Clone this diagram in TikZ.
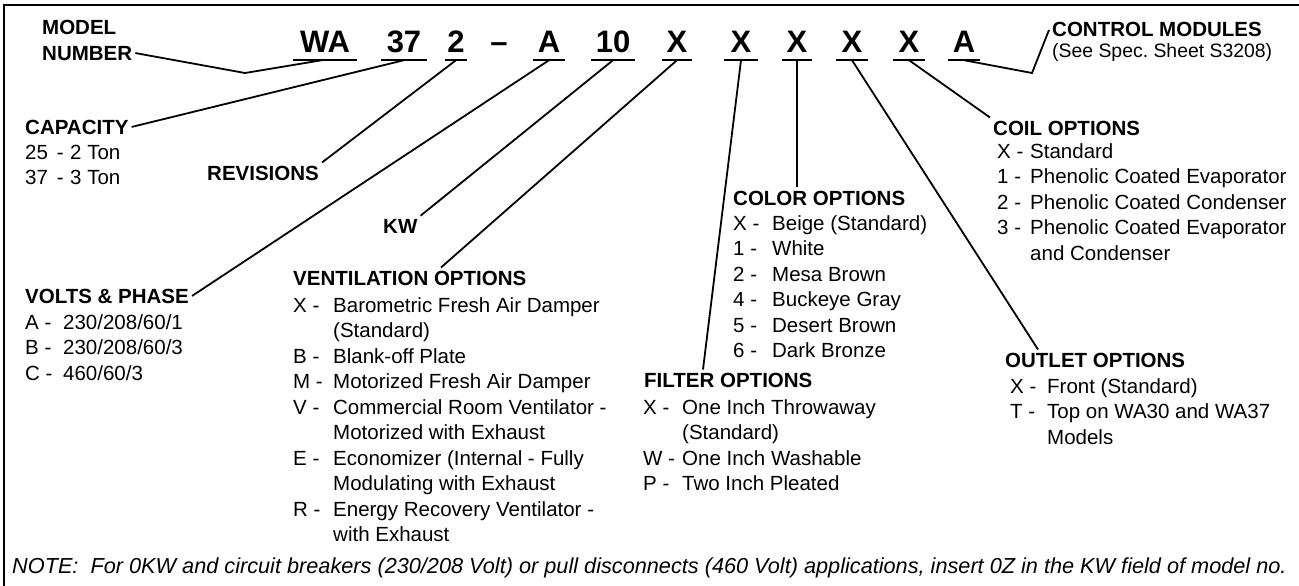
\documentclass[tikz,border=0pt]{standalone}
\usepackage{fontspec}
\setmainfont{Liberation Sans}
\usetikzlibrary{positioning}

\newcommand{\bodysize}{\fontsize{20.5}{25.5}\selectfont}
\newcommand{\optitem}[3]{\makebox[#1][l]{#2 -}#3}
\newcommand{\optcont}[2]{\hspace*{#1}#2}
\newcommand{\optlines}[1]{\begin{tabular}[t]{@{}l@{}}#1\end{tabular}}

\begin{document}
\begin{tikzpicture}[x=1pt,y=-1pt,
  every node/.style={font=\bodysize},
  mnchar/.style={font=\fontsize{31}{31}\selectfont\bfseries, inner sep=0pt, text depth=7pt, anchor=base},
  hdr/.style={font=\bodysize\bfseries, inner sep=3pt, anchor=base west},
  optlist/.style={inner sep=0pt, anchor=base west},
  lead/.style={line width=1.8pt}]
	\useasboundingbox (0,0) rectangle (1299,586);
	% frame
	\draw[line width=2.4pt] (4,586) -- (4,5) -- (1299,5);

	% model number fields with underlines
	\foreach \nm/\cx/\w/\txt in {mwa/325/64/WA, m37/404/45/37, mrev/456/22/2,
	    mvolt/549/32/A, mkw/613/43/10, mvent/677/30/X, mfilt/741/33/X,
	    mcol/797/30/X, moutl/852/31/X, mcoil/909/32/X, mctrl/964/32/A}{
		\node[mnchar, minimum width=\w] (\nm) at (\cx,53) {\txt};
		\draw[lead] (\nm.south west) -- (\nm.south east);
	}
	\node[mnchar] (mdash) at (499,53) {--};

	% headings
	\node[hdr] (mlab) at (39,35) {MODEL};
	\node[hdr] (nlab) at (39,60) {NUMBER};
	\node[hdr] (cap) at (22,134) {CAPACITY};
	\node[hdr] (rev) at (204,180) {REVISIONS};
	\node[hdr] (kw) at (380,233) {KW};
	\node[hdr] (vp) at (22,303) {VOLTS \& PHASE};
	\node[hdr] (venth) at (290,285) {VENTILATION OPTIONS};
	\node[hdr] (filth) at (641,387) {FILTER OPTIONS};
	\node[hdr] (colh) at (730,205) {COLOR OPTIONS};
	\node[hdr] (coilh) at (990,135) {COIL OPTIONS};
	\node[hdr] (outh) at (1002,367) {OUTLET OPTIONS};
	\node[hdr] (ctrlh) at (1049,37) {CONTROL MODULES};
	\node[optlist, font=\fontsize{19.4}{24}\selectfont] (ctrlnote) at (1052,58) {(See Spec.\ Sheet S3208)};

	% option lists
	\node[optlist] (caplist) at (25,159) {\optlines{%
		\makebox[45pt][l]{25\hspace{9pt}-}2 Ton\\
		\makebox[45pt][l]{37\hspace{9pt}-}3 Ton}};
	\node[optlist] (vplist) at (25,329) {\optlines{%
		\optitem{38pt}{A}{230/208/60/1}\\
		\optitem{38pt}{B}{230/208/60/3}\\
		\optitem{38pt}{C}{460/60/3}}};
	\node[optlist] (ventlist) at (293,312) {\optlines{%
		\optitem{40pt}{X}{Barometric Fresh Air Damper}\\
		\optcont{40pt}{(Standard)}\\
		\optitem{40pt}{B}{Blank-off Plate}\\
		\optitem{40pt}{M}{Motorized Fresh Air Damper}\\
		\optitem{40pt}{V}{Commercial Room Ventilator -}\\
		\optcont{40pt}{Motorized with Exhaust}\\
		\optitem{40pt}{E}{Economizer (Internal - Fully}\\
		\optcont{40pt}{Modulating with Exhaust}\\
		\optitem{40pt}{R}{Energy Recovery Ventilator -}\\
		\optcont{40pt}{with Exhaust}}};
	\node[optlist] (filtlist) at (643,414) {\optlines{%
		\optitem{39pt}{X}{One Inch Throwaway}\\
		\optcont{39pt}{(Standard)}\\
		\optitem{39pt}{W}{One Inch Washable}\\
		\optitem{39pt}{P}{Two Inch Pleated}}};
	\node[optlist] (collist) at (733,230) {\optlines{%
		\optitem{39pt}{X}{Beige (Standard)}\\
		\optitem{39pt}{1}{White}\\
		\optitem{39pt}{2}{Mesa Brown}\\
		\optitem{39pt}{4}{Buckeye Gray}\\
		\optitem{39pt}{5}{Desert Brown}\\
		\optitem{39pt}{6}{Dark Bronze}}};
	\node[optlist] (coillist) at (997,158) {\optlines{%
		\optitem{33pt}{X}{Standard}\\
		\optitem{33pt}{1}{Phenolic Coated Evaporator}\\
		\optitem{33pt}{2}{Phenolic Coated Condenser}\\
		\optitem{33pt}{3}{Phenolic Coated Evaporator}\\
		\optcont{33pt}{and Condenser}}};
	\node[optlist] (outlist) at (1010,393) {\optlines{%
		\optitem{37pt}{X}{Front (Standard)}\\
		\optitem{37pt}{T}{Top on WA30 and WA37}\\
		\optcont{37pt}{Models}}};

	% leaders
	\coordinate (mnbend) at (245,73);
	\coordinate (ctrlbend) at (1032,73);
	\draw[lead] (nlab.east) -- (mnbend) -- ([xshift=-3]mwa.south);
	\draw[lead] (cap.east) -- (m37.south);
	\draw[lead] (rev.north east) -- (mrev.south);
	\draw[lead] (vp.east) -- (mvolt.south);
	\draw[lead] (kw.north east) -- (mkw.south);
	\draw[lead] ([xshift=151]venth.north west) -- (mvent.south);
	\draw[lead] ([xshift=62]filth.north west) -- (mfilt.south);
	\draw[lead] ([xshift=67]colh.north west) -- (mcol.south);
	\draw[lead] ([xshift=36]outh.north west) -- (moutl.south);
	\draw[lead] (coilh.north west) -- (mcoil.south);
	\draw[lead] (ctrlh.west) -- (ctrlbend) -- (mctrl.south);

	% note
	\node[anchor=base west, inner sep=0pt, font=\fontsize{21.7}{25}\selectfont\itshape] (note) at (12,573)
		{NOTE:\ \ For 0KW and circuit breakers (230/208 Volt) or pull disconnects (460 Volt) applications, insert 0Z in the KW field of model no.};
\end{tikzpicture}
\end{document}
